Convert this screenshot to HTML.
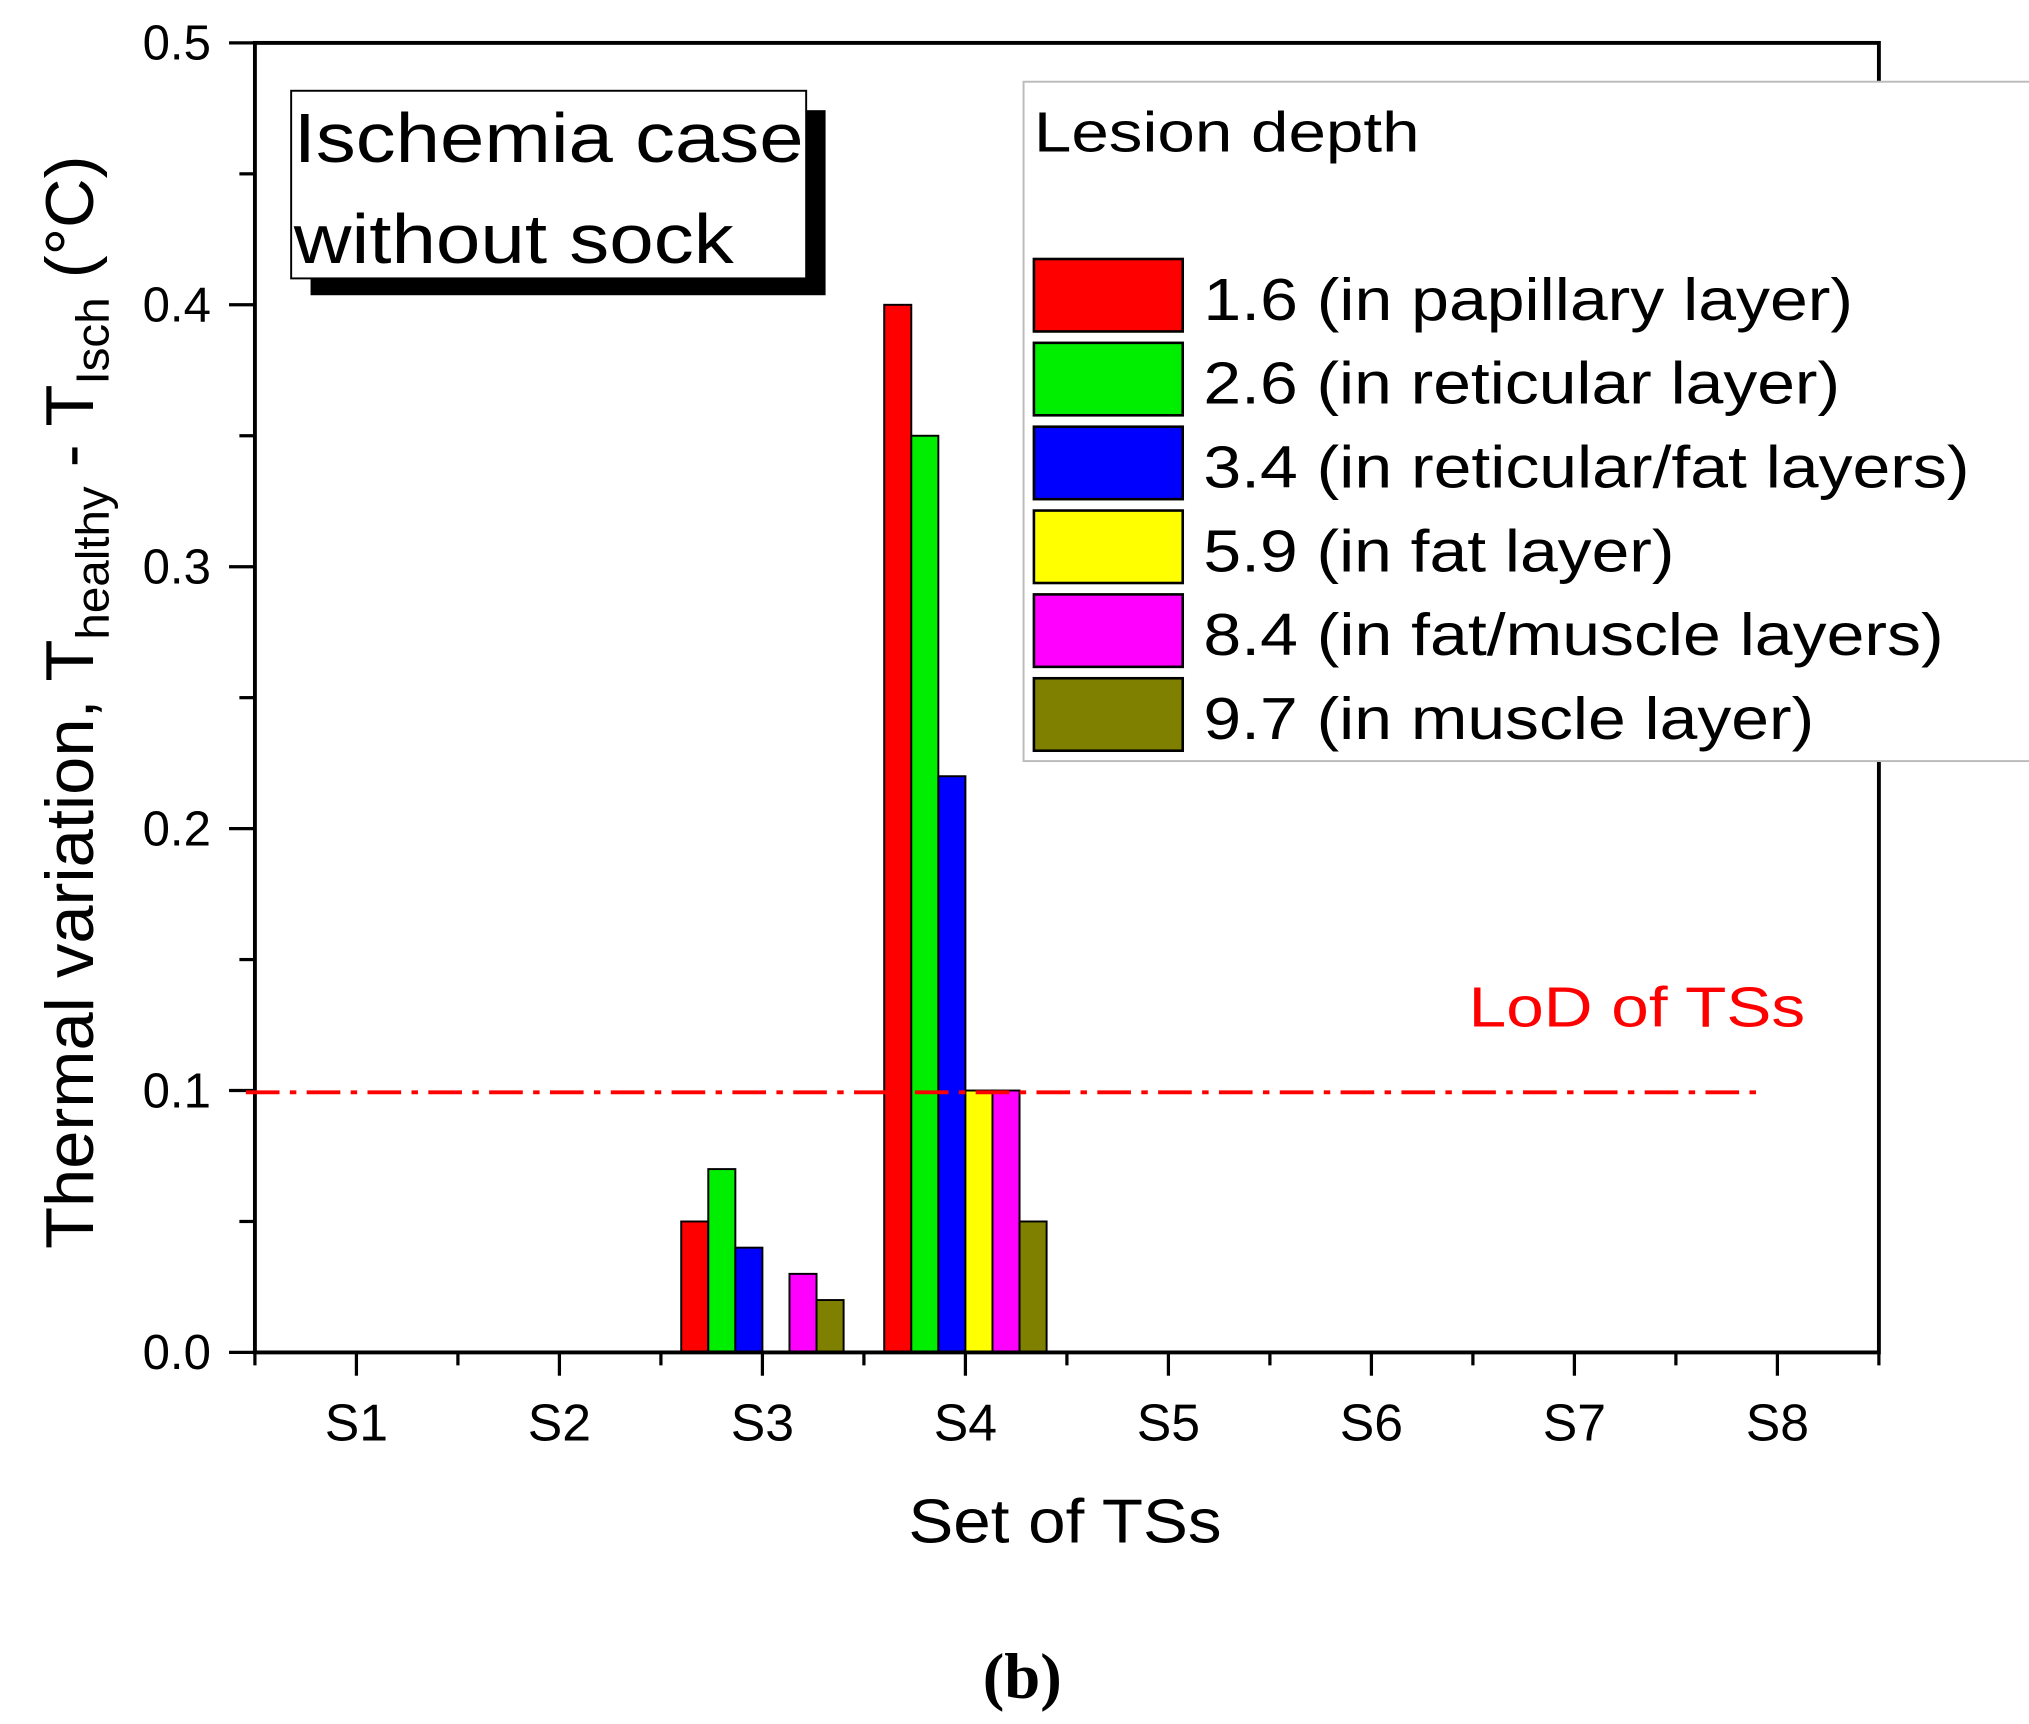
<!DOCTYPE html>
<html><head><meta charset="utf-8"><style>
html,body{margin:0;padding:0;background:#fff;}
svg{display:block;font-family:"Liberation Sans",Arial,sans-serif;}
</style></head><body>
<svg id="chart" width="2029" height="1724" viewBox="0 0 1568 1332" xmlns="http://www.w3.org/2000/svg">
<rect x="0" y="0" width="1568" height="1332" fill="#fff"/>
<g id="bars"></g>
<g id="axes"></g>
<line x1="190" y1="844" x2="1365" y2="844" stroke="#ff0000" stroke-width="3" stroke-dasharray="26,8,5,8"/>
<text x="1135" y="793" font-size="44" fill="#ff0000" textLength="260" lengthAdjust="spacingAndGlyphs">LoD of TSs</text>
<g>
<rect x="240" y="85" width="398" height="143" fill="#000"/>
<rect x="225" y="70" width="398" height="145" fill="#fff" stroke="#000" stroke-width="1.5"/>
<text x="227" y="125" font-size="54" textLength="394" lengthAdjust="spacingAndGlyphs">Ischemia case</text>
<text x="227" y="203" font-size="54" textLength="340" lengthAdjust="spacingAndGlyphs">without sock</text>
</g>
<g id="legend">
<rect x="791" y="63" width="780" height="525" fill="#fff" stroke="#bbb" stroke-width="1.5"/>
<text x="799" y="117" font-size="44" textLength="298" lengthAdjust="spacingAndGlyphs">Lesion depth</text>
</g>
<text transform="translate(72,965) rotate(-90)" font-size="52" textLength="845" lengthAdjust="spacingAndGlyphs">Thermal variation, T<tspan font-size="36" dy="12">healthy</tspan><tspan dy="-12"> - T</tspan><tspan font-size="36" dy="12">Isch</tspan><tspan dy="-12">   (°C)</tspan></text>
<text x="823" y="1192" font-size="48" text-anchor="middle" textLength="242" lengthAdjust="spacingAndGlyphs">Set of TSs</text>
<text x="790" y="1312" font-size="50" font-weight="bold" text-anchor="middle" font-family="Liberation Serif, serif">(b)</text>
</svg>
<script>
const categories = ["S1","S2","S3","S4","S5","S6","S7","S8"];
const seriesNames = ["1.6 (in papillary layer)","2.6 (in reticular layer)","3.4 (in reticular/fat layers)","5.9 (in fat layer)","8.4 (in fat/muscle layers)","9.7 (in muscle layer)"];
const seriesColors = ["#ff0000","#00ee00","#0000ff","#ffff00","#ff00ff","#808000"];
const s16 = [0,0,0.05,0.40,0,0,0,0];
const s26 = [0,0,0.07,0.35,0,0,0,0];
const s34 = [0,0,0.04,0.22,0,0,0,0];
const s59 = [0,0,0,0.10,0,0,0,0];
const s84 = [0,0,0.03,0.10,0,0,0,0];
const s97 = [0,0,0.02,0.05,0,0,0,0];
const yTicks = [0.0,0.1,0.2,0.3,0.4,0.5];
const yTickLabels = ["0.0","0.1","0.2","0.3","0.4","0.5"];
const series = [s16,s26,s34,s59,s84,s97];

const NS = "http://www.w3.org/2000/svg";
const L = 197, R = 1452, T = 33, B = 1045;
const catW = (R - L) / categories.length;
function xScale(i){ return L + catW * (i + 0.5); }
function yScale(v){ return B - (v - 0) / 0.5 * (B - T); }
const barW = catW * 0.8 / series.length;

function mk(tag, attrs, parent){
  const el = document.createElementNS(NS, tag);
  for (const k in attrs) el.setAttribute(k, attrs[k]);
  parent.appendChild(el);
  return el;
}
const gb = document.getElementById('bars');
series.forEach((s, si) => {
  s.forEach((v, ci) => {
    if (v <= 0) return;
    const x = xScale(ci) - catW * 0.4 + si * barW;
    const r = mk('rect', {x: x, y: yScale(v), width: barW, height: yScale(0) - yScale(v), fill: seriesColors[si], stroke: '#000', 'stroke-width': 1.5}, gb);
    
    
  });
});

const ga = document.getElementById('axes');
const frame = mk('rect', {x: L, y: T, width: R - L, height: B - T, fill: 'none', stroke: '#000', 'stroke-width': 3}, ga);


for (let k = 0; k <= 10; k++) {
  const v = k * 0.05;
  const y = yScale(v);
  const major = k % 2 === 0;
  const t = mk('line', {x1: L - (major ? 20 : 12), y1: y, x2: L, y2: y, stroke: '#000', 'stroke-width': 2.5}, ga);
  
  
}
yTicks.forEach((v, i) => {
  const t = mk('text', {x: 163, y: yScale(v) + 13, 'font-size': 38, 'text-anchor': 'end'}, ga);
  t.textContent = yTickLabels[i];
  
  
});
categories.forEach((c, i) => {
  const x = xScale(i);
  const t = mk('line', {x1: x, y1: B, x2: x, y2: B + 18, stroke: '#000', 'stroke-width': 2.5}, ga);
  
  
  const lbl = mk('text', {x: x, y: 1113, 'font-size': 40, 'text-anchor': 'middle'}, ga);
  lbl.textContent = c;
  
  
});
for (let i = 0; i <= categories.length; i++) {
  const x = L + catW * i;
  const t = mk('line', {x1: x, y1: B, x2: x, y2: B + 10, stroke: '#000', 'stroke-width': 2.5}, ga);
  
  
}
const gl = document.getElementById('legend');
const legendW = [502, 492, 592, 364, 572, 472];
seriesNames.forEach((n, i) => {
  const y0 = 200 + i * 64.8;
  const g = mk('g', {}, gl);
  
  
  mk('rect', {x: 799, y: y0, width: 115, height: 56, fill: seriesColors[i], stroke: '#000', 'stroke-width': 2}, g);
  const t = mk('text', {x: 930, y: y0 + 47, 'font-size': 46, textLength: legendW[i], lengthAdjust: 'spacingAndGlyphs'}, g);
  t.textContent = n;
});
</script>
</body></html>
